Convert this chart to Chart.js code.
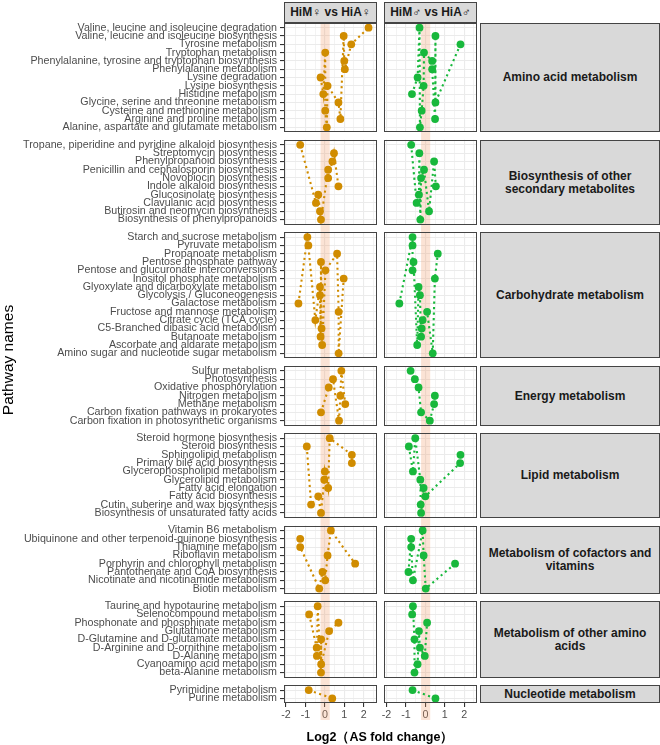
<!DOCTYPE html>
<html>
<head>
<meta charset="utf-8">
<script src="https://cdn.jsdelivr.net/npm/chart.js@4.4.1/dist/chart.umd.min.js"></script>
<style>
  body { margin: 0; background: #fff; }
  #fig { position: relative; width: 660px; height: 745px; overflow: hidden; font-family: 'Liberation Sans', Arial, sans-serif; }
  #fig canvas { position: absolute; }
  .strip { position: absolute; box-sizing: border-box; background: #d9d9d9; border: 1px solid #444;
           color: #1a1a1a; font-weight: bold; font-size: 12px; line-height: 13px;
           display: flex; align-items: center; justify-content: center; text-align: center; }
  .title-x { position: absolute; left: 280px; width: 200px; top: 729px; text-align: center;
             font-weight: bold; font-size: 12.5px; color: #000; }
  .title-y { position: absolute; left: -62px; top: 351px; width: 140px; text-align: center;
             transform: rotate(-90deg); font-size: 15.5px; color: #000; }
</style>
</head>
<body>
<div id="fig"></div>
<script>
// pathway names, top to bottom inside each facet
var aminoLabels = ['Valine, leucine and isoleucine degradation', 'Valine, leucine and isoleucine biosynthesis',
  'Tyrosine metabolism', 'Tryptophan metabolism', 'Phenylalanine, tyrosine and tryptophan biosynthesis',
  'Phenylalanine metabolism', 'Lysine degradation', 'Lysine biosynthesis', 'Histidine metabolism',
  'Glycine, serine and threonine metabolism', 'Cysteine and methionine metabolism',
  'Arginine and proline metabolism', 'Alanine, aspartate and glutamate metabolism'];
var bioLabels = ['Tropane, piperidine and pyridine alkaloid biosynthesis', 'Streptomycin biosynthesis',
  'Phenylpropanoid biosynthesis', 'Penicillin and cephalosporin biosynthesis', 'Novobiocin biosynthesis',
  'Indole alkaloid biosynthesis', 'Glucosinolate biosynthesis', 'Clavulanic acid biosynthesis',
  'Butirosin and neomycin biosynthesis', 'Biosynthesis of phenylpropanoids'];
var carbLabels = ['Starch and sucrose metabolism', 'Pyruvate metabolism', 'Propanoate metabolism',
  'Pentose phosphate pathway', 'Pentose and glucuronate interconversions', 'Inositol phosphate metabolism',
  'Glyoxylate and dicarboxylate metabolism', 'Glycolysis / Gluconeogenesis', 'Galactose metabolism',
  'Fructose and mannose metabolism', 'Citrate cycle (TCA cycle)', 'C5-Branched dibasic acid metabolism',
  'Butanoate metabolism', 'Ascorbate and aldarate metabolism', 'Amino sugar and nucleotide sugar metabolism'];
var energyLabels = ['Sulfur metabolism', 'Photosynthesis', 'Oxidative phosphorylation', 'Nitrogen metabolism',
  'Methane metabolism', 'Carbon fixation pathways in prokaryotes', 'Carbon fixation in photosynthetic organisms'];
var lipidLabels = ['Steroid hormone biosynthesis', 'Steroid biosynthesis', 'Sphingolipid metabolism',
  'Primary bile acid biosynthesis', 'Glycerophospholipid metabolism', 'Glycerolipid metabolism',
  'Fatty acid elongation', 'Fatty acid biosynthesis', 'Cutin, suberine and wax biosynthesis',
  'Biosynthesis of unsaturated fatty acids'];
var cofLabels = ['Vitamin B6 metabolism', 'Ubiquinone and other terpenoid-quinone biosynthesis',
  'Thiamine metabolism', 'Riboflavin metabolism', 'Porphyrin and chlorophyll metabolism',
  'Pantothenate and CoA biosynthesis', 'Nicotinate and nicotinamide metabolism', 'Biotin metabolism'];
var otherLabels = ['Taurine and hypotaurine metabolism', 'Selenocompound metabolism',
  'Phosphonate and phosphinate metabolism', 'Glutathione metabolism', 'D-Glutamine and D-glutamate metabolism',
  'D-Arginine and D-ornithine metabolism', 'D-Alanine metabolism', 'Cyanoamino acid metabolism',
  'beta-Alanine metabolism'];
var nucLabels = ['Pyrimidine metabolism', 'Purine metabolism'];

// log2 fold change, HiM female vs HiA female
var aminoFemale = [2.25, 0.97, 1.36, 0.02, 1.00, 1.03, -0.22, 0.14, -0.08, 0.70, 0.02, 0.80, 0.10];
var bioFemale = [-1.27, 0.47, 0.39, 0.17, 0.17, 0.70, -0.34, -0.46, -0.25, -0.20];
var carbFemale = [-0.90, -0.85, 0.63, -0.20, 0.03, 0.97, -0.25, -0.25, -1.36, 0.71, -0.49, -0.17, -0.22, -0.14, 0.71];
var energyFemale = [0.85, 0.42, 0.20, 0.80, 1.05, -0.20, 0.73];
var lipidFemale = [0.25, -0.93, 1.39, 1.39, 0.00, -0.03, 0.17, -0.34, -0.71, -0.20];
var cofFemale = [0.31, -1.27, -1.27, 0.14, 1.56, -0.12, 0.02, -0.29];
var otherFemale = [-0.37, -0.81, 0.70, 0.22, -0.19, -0.42, -0.41, -0.19, -0.20];
var nucFemale = [-0.83, 0.38];

// log2 fold change, HiM male vs HiA male
var aminoMale = [-0.30, 0.52, 1.81, -0.07, 0.35, 0.35, -0.40, -0.09, -0.69, 0.52, -0.19, 0.50, -0.28];
var bioMale = [-0.73, -0.31, 0.45, -0.07, -0.22, 0.54, -0.33, -0.45, 0.19, -0.26];
var carbMale = [-0.66, -0.66, 0.64, -0.61, -0.66, 0.49, -0.35, -0.28, -1.34, 0.09, -0.14, -0.19, -0.22, -0.42, 0.38];
var energyMale = [-0.76, -0.54, -0.35, 0.49, 0.45, -0.22, 0.23];
var lipidMale = [-0.52, -0.85, 1.81, 1.79, -0.64, -0.26, -0.09, 0.00, -0.24, -0.22];
var cofMale = [-0.14, -0.73, -0.73, -0.09, 1.53, -0.87, -0.64, 0.02];
var otherMale = [-0.64, -0.68, 0.09, -0.33, -0.56, -0.28, -0.03, -0.40, -0.56];
var nucMale = [-0.66, 0.52];

var groupNames = ['Amino acid metabolism', 'Biosynthesis of other<br>secondary metabolites',
  'Carbohydrate metabolism', 'Energy metabolism', 'Lipid metabolism',
  'Metabolism of cofactors and<br>vitamins', 'Metabolism of other amino<br>acids', 'Nucleotide metabolism'];
var columnNames = ['HiM\u2640 vs HiA\u2640', 'HiM\u2642 vs HiA\u2642'];
var xTicks = [-2, -1.5, -1, -0.5, 0, 0.5, 1, 1.5, 2, 2.5];
var band = [-0.22, 0.25];

var groupLabels = [aminoLabels, bioLabels, carbLabels, energyLabels, lipidLabels, cofLabels, otherLabels, nucLabels];
var femaleValues = [aminoFemale, bioFemale, carbFemale, energyFemale, lipidFemale, cofFemale, otherFemale, nucFemale];
var maleValues = [aminoMale, bioMale, carbMale, energyMale, lipidMale, cofMale, otherMale, nucMale];

// layout
var ROW = 8.3, GAP = 7.6, TOP = 22.7, EXPAND = 0.6;
var BAND_BOTTOM = 720;
var FONT = "'Liberation Sans', Arial, sans-serif";
var columns = [
  {left: 283.5, right: 376.5, canvasLeft: 0, canvasWidth: 380, color: '#D08C00', values: femaleValues, axis: true},
  {left: 384, right: 477, canvasLeft: 380, canvasWidth: 100, color: '#18B83C', values: maleValues, axis: false}
];

var fig = document.getElementById('fig');
var tops = [], bottoms = [];
var y = TOP;
groupLabels.forEach(function(labels) {
  var h = (labels.length - 1 + 2 * EXPAND) * ROW;
  tops.push(y);
  bottoms.push(y + h);
  y += h + GAP;
});
var last = groupLabels.length - 1;
var cTop = tops.map(function(t, g) {
  return g === 0 ? Math.floor(t) - 1 : Math.round((bottoms[g - 1] + t) / 2);
});
var cBottom = cTop.map(function(t, g) { return g === last ? 745 : cTop[g + 1]; });

var panelPlugin = {
  id: 'panel',
  beforeDatasetsDraw: function(chart, args, opts) {
    var ctx = chart.ctx;
    var x0 = chart.scales.x.getPixelForValue(band[0]);
    var x1 = chart.scales.x.getPixelForValue(band[1]);
    var y0 = Math.max(0, TOP - opts.top);
    var y1 = Math.min(chart.height, BAND_BOTTOM - opts.top);
    ctx.save();
    ctx.fillStyle = 'rgba(240,150,100,0.27)';
    ctx.fillRect(x0, y0, x1 - x0, y1 - y0);
    ctx.restore();
  },
  afterDraw: function(chart) {
    var a = chart.chartArea;
    var ctx = chart.ctx;
    var l = Math.round(a.left), t = Math.round(a.top), r = Math.round(a.right), b = Math.round(a.bottom);
    ctx.save();
    ctx.strokeStyle = '#444';
    ctx.lineWidth = 1;
    ctx.strokeRect(l + 0.5, t + 0.5, r - l - 1, b - t - 1);
    ctx.restore();
  }
};

function makePanel(g, col) {
  var labels = groupLabels[g];
  var values = col.values[g];
  var isLast = g === last;
  var canvasTop = cTop[g], canvasHeight = cBottom[g] - cTop[g];
  var canvas = document.createElement('canvas');
  canvas.width = col.canvasWidth;
  canvas.height = canvasHeight;
  canvas.style.left = col.canvasLeft + 'px';
  canvas.style.top = canvasTop + 'px';
  fig.appendChild(canvas);

  var points = values.map(function(v, i) { return {x: v, y: i}; });
  // the dotted path joins the points in order of fold change
  var path = points.slice().sort(function(a, b) { return a.x - b.x; });
  var yAxisWidth = col.axis ? col.left - col.canvasLeft : 0;
  var xAxisHeight = isLast ? 18 : 0;

  new Chart(canvas, {
    type: 'scatter',
    data: {
      datasets: [
        {data: points, backgroundColor: col.color, borderWidth: 0, pointRadius: 3.9, order: 1, clip: 0},
        {data: path, showLine: true, borderColor: col.color, borderWidth: 2.1, borderDash: [2.1, 3.4],
         borderCapStyle: 'butt', pointRadius: 0, fill: false, order: 2, clip: 0}
      ]
    },
    plugins: [panelPlugin],
    options: {
      responsive: false,
      animation: false,
      events: [],
      layout: {
        autoPadding: false,
        padding: {
          left: col.axis ? 0 : col.left - col.canvasLeft,
          right: col.canvasLeft + col.canvasWidth - col.right,
          top: tops[g] - canvasTop,
          bottom: canvasHeight - (bottoms[g] - canvasTop) - xAxisHeight
        }
      },
      plugins: {legend: {display: false}, tooltip: {enabled: false}, panel: {top: canvasTop}},
      scales: {
        x: {
          type: 'linear', min: -2.13, max: 2.66,
          afterBuildTicks: function(s) { s.ticks = xTicks.map(function(v) { return {value: v}; }); },
          afterFit: function(s) { s.height = xAxisHeight; s.paddingLeft = 0; s.paddingRight = 0; },
          border: {display: false},
          grid: {
            color: '#ebebeb',
            lineWidth: function(c) { return Number.isInteger(c.tick.value) ? 1.1 : 0.6; },
            drawTicks: isLast, tickLength: 3.5,
            tickColor: function(c) { return Number.isInteger(c.tick.value) ? '#333' : 'rgba(0,0,0,0)'; }
          },
          ticks: {
            display: isLast, autoSkip: false, maxRotation: 0, padding: 1.5, color: '#4d4d4d',
            font: {family: FONT, size: 10.7},
            callback: function(v) { return Number.isInteger(v) ? String(v) : ''; }
          }
        },
        y: {
          type: 'linear', reverse: true, min: -EXPAND, max: labels.length - 1 + EXPAND,
          afterBuildTicks: function(s) { s.ticks = labels.map(function(l, i) { return {value: i}; }); },
          afterFit: function(s) { s.width = yAxisWidth; s.paddingTop = 0; s.paddingBottom = 0; },
          border: {display: false},
          grid: {color: '#ebebeb', lineWidth: 1.1, drawTicks: col.axis, tickLength: 3.5, tickColor: '#333'},
          ticks: {
            display: col.axis, autoSkip: false, padding: 3, color: '#4d4d4d',
            font: {family: FONT, size: 10.7},
            callback: function(v) { return labels[v]; }
          }
        }
      }
    }
  });
}

for (var g = 0; g < groupLabels.length; g++) {
  columns.forEach(function(col) { makePanel(g, col); });
  var s = document.createElement('div');
  s.className = 'strip';
  s.style.left = '480px';
  s.style.width = '180px';
  s.style.top = Math.round(tops[g]) + 'px';
  s.style.height = (Math.round(bottoms[g]) - Math.round(tops[g])) + 'px';
  s.innerHTML = groupNames[g];
  fig.appendChild(s);
}
columns.forEach(function(col, i) {
  var s = document.createElement('div');
  s.className = 'strip';
  s.style.left = Math.round(col.left) + 'px';
  s.style.width = Math.round(col.right - col.left) + 'px';
  s.style.top = '2px';
  s.style.height = (Math.round(TOP) - 2) + 'px';
  s.textContent = columnNames[i];
  fig.appendChild(s);
});
var tx = document.createElement('div');
tx.className = 'title-x';
tx.textContent = 'Log2\uFF08AS fold change\uFF09';
fig.appendChild(tx);
var ty = document.createElement('div');
ty.className = 'title-y';
ty.textContent = 'Pathway names';
fig.appendChild(ty);
</script>
</body>
</html>
